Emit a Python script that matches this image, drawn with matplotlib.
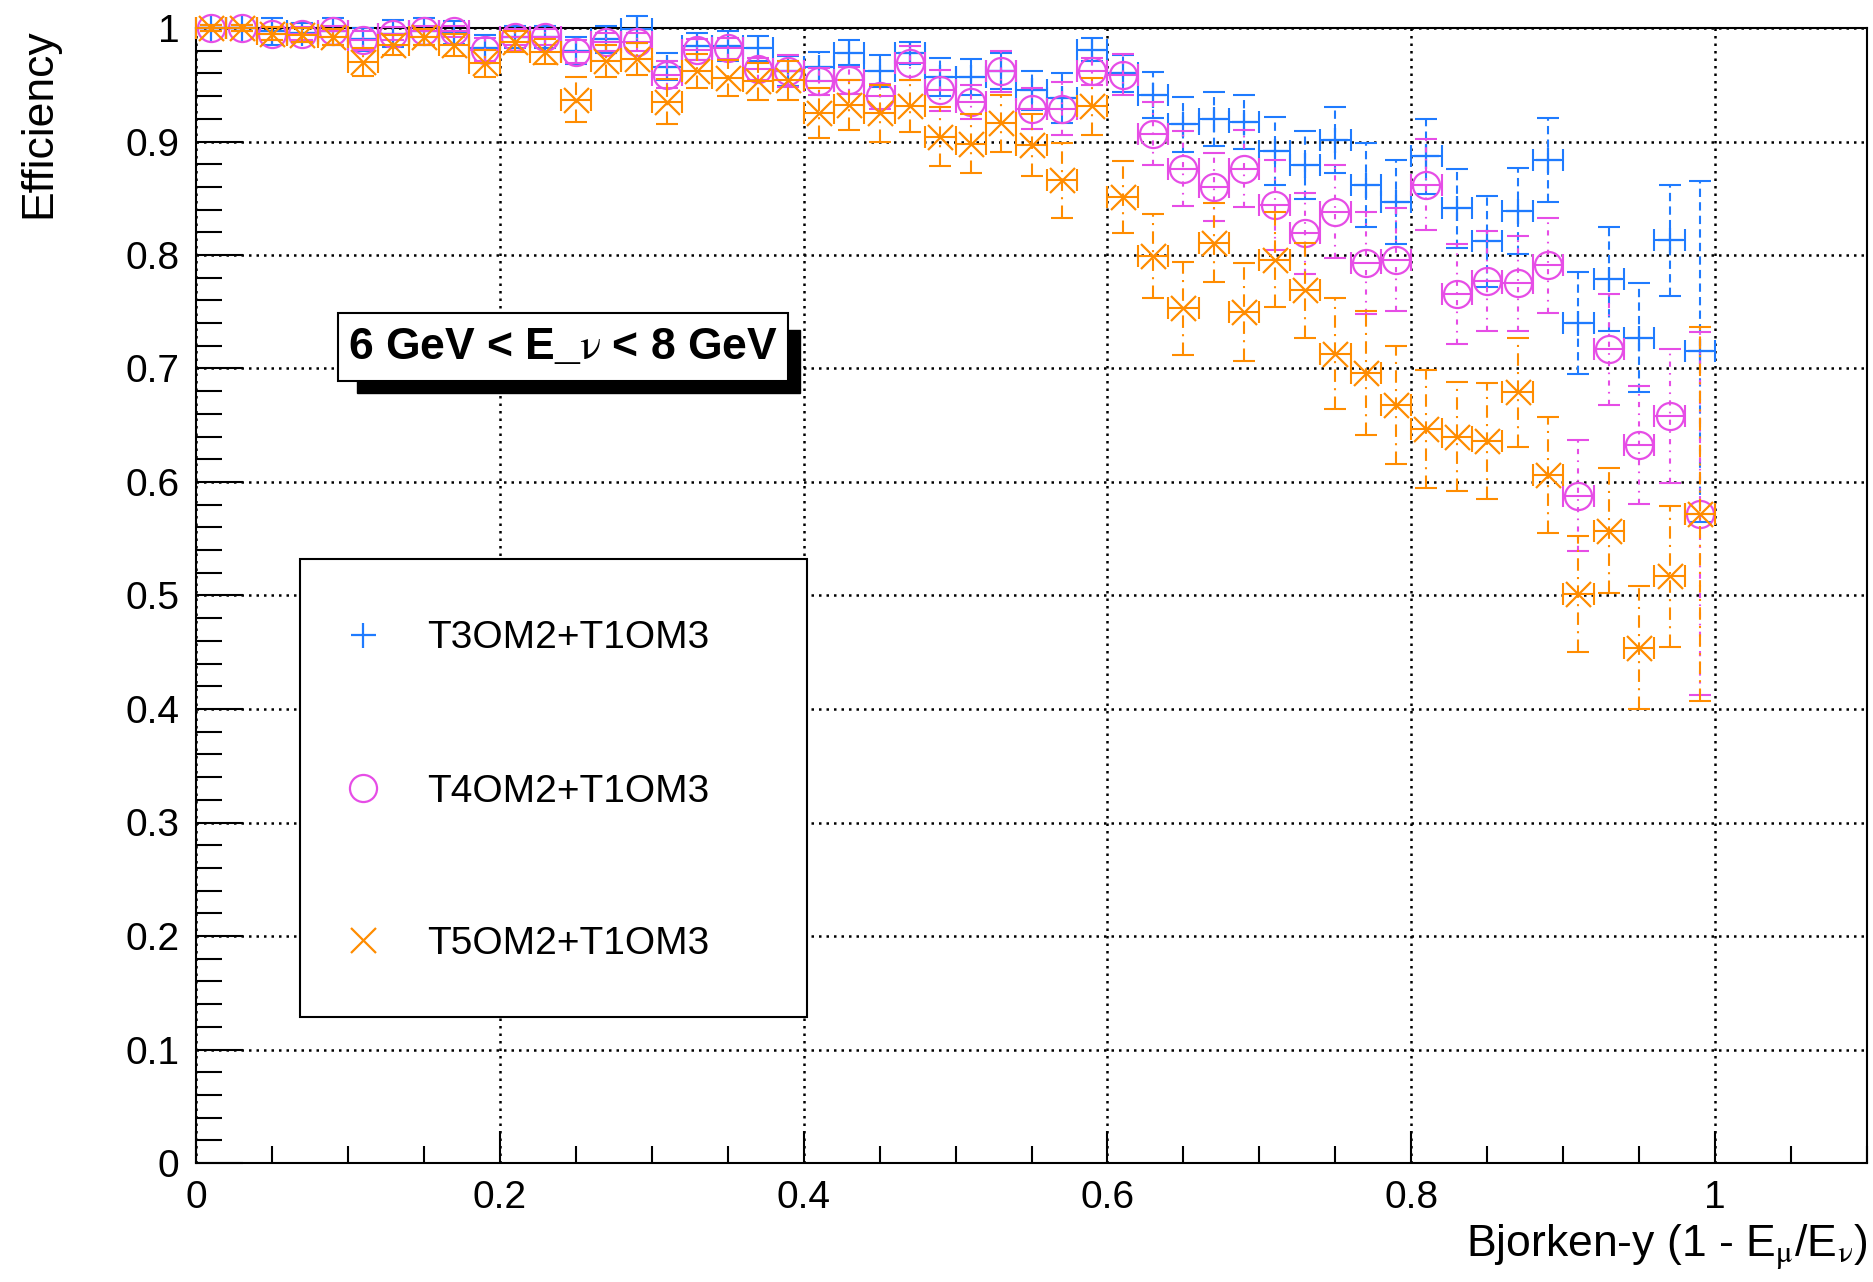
import numpy as np
import matplotlib
matplotlib.use("Agg")
import matplotlib.pyplot as plt
from matplotlib.lines import Line2D
from matplotlib.patches import Rectangle
from matplotlib.ticker import MultipleLocator, FixedLocator, FuncFormatter

plt.rcParams["font.family"] = ["Liberation Sans", "DejaVu Sans"]
plt.rcParams["mathtext.fontset"] = "stix"

# ---- data: efficiency vs Bjorken-y, 50 bins of width 0.02 on [0, 1] ----
bin_centers = np.round(np.arange(0.01, 1.0, 0.02), 2)
bin_halfwidth = 0.01

labels = ["T3OM2+T1OM3", "T4OM2+T1OM3", "T5OM2+T1OM3"]
x_ticks = [0, 0.2, 0.4, 0.6, 0.8, 1.0]

eff_t3 = [1.000, 1.000, 0.997, 0.996, 0.997, 0.990, 0.995, 0.997, 0.996, 0.982,
          0.992, 0.992, 0.980, 0.990, 0.999, 0.966, 0.984, 0.984, 0.982, 0.962,
          0.966, 0.978, 0.962, 0.978, 0.957, 0.957, 0.962, 0.945, 0.938, 0.981,
          0.960, 0.941, 0.915, 0.920, 0.917, 0.892, 0.879, 0.901, 0.862, 0.847,
          0.887, 0.841, 0.812, 0.839, 0.884, 0.740, 0.779, 0.727, 0.813, 0.715]
err_t3 = [0.003, 0.003, 0.012, 0.008, 0.012, 0.010, 0.012, 0.012, 0.010, 0.012,
          0.010, 0.010, 0.012, 0.012, 0.012, 0.012, 0.012, 0.013, 0.011, 0.013,
          0.013, 0.011, 0.014, 0.010, 0.017, 0.016, 0.016, 0.017, 0.022, 0.010,
          0.016, 0.020, 0.024, 0.024, 0.024, 0.030, 0.030, 0.029, 0.037, 0.037,
          0.033, 0.035, 0.040, 0.038, 0.037, 0.045, 0.046, 0.048, 0.049, 0.150]

eff_t4 = [1.000, 1.000, 0.995, 0.995, 0.997, 0.989, 0.995, 0.997, 0.997, 0.981,
          0.992, 0.992, 0.979, 0.988, 0.988, 0.959, 0.981, 0.982, 0.964, 0.962,
          0.953, 0.954, 0.940, 0.969, 0.945, 0.935, 0.962, 0.929, 0.929, 0.962,
          0.959, 0.907, 0.876, 0.860, 0.876, 0.844, 0.819, 0.838, 0.793, 0.796,
          0.862, 0.766, 0.777, 0.775, 0.791, 0.588, 0.717, 0.633, 0.658, 0.572]
err_t4 = [0.003, 0.003, 0.006, 0.006, 0.005, 0.008, 0.006, 0.005, 0.005, 0.010,
          0.007, 0.007, 0.010, 0.008, 0.008, 0.012, 0.009, 0.009, 0.010, 0.014,
          0.012, 0.012, 0.011, 0.015, 0.018, 0.015, 0.018, 0.018, 0.023, 0.012,
          0.018, 0.028, 0.033, 0.030, 0.034, 0.040, 0.036, 0.041, 0.045, 0.045,
          0.040, 0.044, 0.044, 0.042, 0.042, 0.049, 0.049, 0.052, 0.059, 0.160]

eff_t5 = [1.000, 1.000, 0.995, 0.994, 0.992, 0.970, 0.985, 0.992, 0.985, 0.969,
          0.988, 0.979, 0.937, 0.971, 0.973, 0.935, 0.962, 0.956, 0.953, 0.954,
          0.925, 0.932, 0.925, 0.931, 0.904, 0.898, 0.916, 0.897, 0.866, 0.931,
          0.851, 0.799, 0.753, 0.811, 0.750, 0.796, 0.769, 0.713, 0.696, 0.668,
          0.647, 0.640, 0.636, 0.679, 0.606, 0.501, 0.557, 0.454, 0.517, 0.572]
err_t5 = [0.003, 0.003, 0.006, 0.006, 0.007, 0.012, 0.009, 0.007, 0.010, 0.012,
          0.009, 0.011, 0.020, 0.014, 0.014, 0.020, 0.015, 0.016, 0.016, 0.017,
          0.022, 0.022, 0.025, 0.023, 0.026, 0.026, 0.025, 0.027, 0.033, 0.025,
          0.032, 0.037, 0.041, 0.035, 0.043, 0.042, 0.042, 0.049, 0.055, 0.052,
          0.052, 0.048, 0.051, 0.048, 0.051, 0.051, 0.055, 0.054, 0.062, 0.165]

title_box = "6 GeV < E_$\\mathrm{\\nu}$ < 8 GeV"

# ---- styles ----
colors = ["#1f7bff", "#e64de6", "#ff8c00"]
markers = ["+", "o", "x"]
msizes = [18, 19.5, 18]
vstyles = [(0, (4, 2.5)), (0, (2.5, 3, 0.8, 3)), (0, (6, 3, 1, 3))]

W, H = 1873, 1282
fig = plt.figure(figsize=(W / 100, H / 100), dpi=100)


def fx(px):
    return px / W


def fy(py):
    return 1 - py / H


ax = fig.add_axes([fx(196), fy(1163), fx(1867) - fx(196), fy(28) - fy(1163)])

series = [(eff_t3, err_t3), (eff_t4, err_t4), (eff_t5, err_t5)]
for i, (eff, err) in enumerate(series):
    eb = ax.errorbar(bin_centers, eff, xerr=bin_halfwidth, yerr=err, fmt="none",
                     ecolor=colors[i], elinewidth=1.5, capsize=8, capthick=1.5,
                     zorder=3 + i)
    xbars, ybars = eb[2]
    ybars.set_linestyle(vstyles[i])
    for art in list(eb[1]) + list(eb[2]):
        art.set_clip_on(False)
    ax.plot(bin_centers, eff, linestyle="none", marker=markers[i],
            markersize=msizes[i], markeredgewidth=1.6, color=colors[i],
            markerfacecolor="none", zorder=3.5 + i, clip_on=False)

# ---- axes cosmetics ----
for s in ax.spines.values():
    s.set_linewidth(1.5)
ax.xaxis.set_major_locator(FixedLocator(x_ticks))
ax.xaxis.set_minor_locator(MultipleLocator(0.05))
ax.yaxis.set_major_locator(MultipleLocator(0.1))
ax.yaxis.set_minor_locator(MultipleLocator(0.02))
fmt = FuncFormatter(lambda v, _: f"{v:g}")
ax.xaxis.set_major_formatter(fmt)
ax.yaxis.set_major_formatter(fmt)
ax.set_xlim(0, 1.1)
ax.set_ylim(0, 1)
ax.tick_params(axis="both", which="both", direction="in", top=False, right=False,
               labelsize=28, width=1.5)
ax.tick_params(axis="y", which="major", length=34, pad=12)
ax.tick_params(axis="y", which="minor", length=19)
ax.tick_params(axis="x", which="major", length=23, pad=12)
ax.tick_params(axis="x", which="minor", length=12)
ax.grid(True, which="major", color="black", linestyle=(0, (1, 2)), linewidth=1.8,
        zorder=0)
ax.set_axisbelow(True)

ax.set_xlabel("Bjorken-y (1 - E$_{\\mathrm{\\mu}}$/E$_{\\mathrm{\\nu}}$)", fontsize=32,
              loc="right")
ax.xaxis.set_label_coords(1.0, -0.052)
ax.set_ylabel("Efficiency", fontsize=32, loc="top")
ax.yaxis.set_label_coords(-0.082, 1.0)

# ---- energy range label with drop shadow ----
fig.add_artist(Rectangle((fx(357), fy(393)), fx(800) - fx(357), fy(330) - fy(393),
                         transform=fig.transFigure, facecolor="black",
                         edgecolor="black", zorder=10))
fig.add_artist(Rectangle((fx(338), fy(381)), fx(788) - fx(338), fy(313) - fy(381),
                         transform=fig.transFigure, facecolor="white",
                         edgecolor="black", linewidth=1.5, zorder=11))
fig.text(fx(563), fy(347), title_box, fontsize=32, fontweight="bold",
         ha="center", va="center", zorder=12)

# ---- legend ----
fig.add_artist(Rectangle((fx(300), fy(1017)), fx(807) - fx(300), fy(559) - fy(1017),
                         transform=fig.transFigure, facecolor="white",
                         edgecolor="black", linewidth=1.5, zorder=10))
marker_rows = [635, 788, 940]
text_baselines = [648, 802, 954]
for i, lab in enumerate(labels):
    fig.add_artist(Line2D([fx(363)], [fy(marker_rows[i])], transform=fig.transFigure,
                          linestyle="none", marker=markers[i], markersize=msizes[i],
                          markeredgewidth=1.6, color=colors[i],
                          markerfacecolor="none", zorder=11))
    fig.text(fx(427), fy(text_baselines[i]), lab, fontsize=28, ha="left",
             va="baseline", zorder=11)

fig.savefig("out.png", dpi=100)
